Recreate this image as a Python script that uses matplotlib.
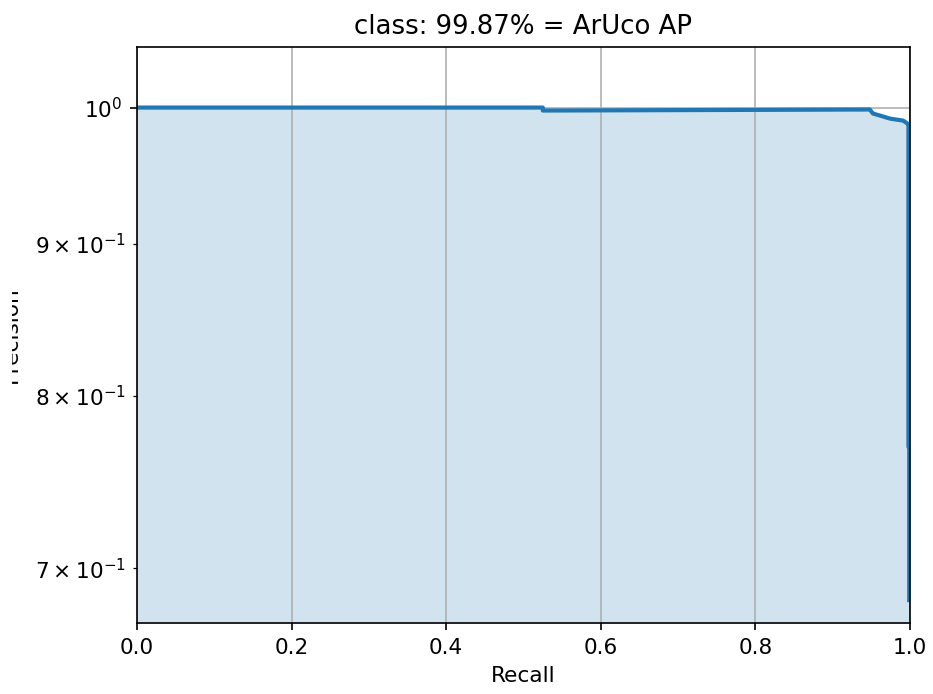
import matplotlib
matplotlib.use("Agg")
import matplotlib.pyplot as plt
from matplotlib.transforms import Bbox, TransformedBbox

# precision / recall curve
recall = [0.0, 0.525, 0.525, 0.948, 0.952, 0.963, 0.974, 0.985, 0.991, 0.996, 0.998, 0.998, 0.999, 0.999]
precision = [1.0, 1.0, 0.9977, 0.9985, 0.9954, 0.9935, 0.9915, 0.9905, 0.9900, 0.9880, 0.9869, 0.769, 0.769, 0.683]
ap = 99.87
class_name = "ArUco"
y_limits = (0.671, 1.048)

plt.rcParams["font.size"] = 10.4

fig = plt.figure(figsize=(933 / 150, 694 / 150), dpi=150)
ax = fig.add_axes([137 / 933, 1 - 623 / 694, (910 - 137) / 933, (623 - 47) / 694])

ax.set_yscale("log")
ax.plot(recall, precision, color="C0", lw=2)
ax.fill_between(recall, precision, y_limits[0], color="C0", alpha=0.2, lw=0)
ax.set_xlim(0, 1)
ax.set_ylim(*y_limits)
ax.grid(True)

ax.set_xlabel("Recall")
ylab = ax.set_ylabel("Precision")
ax.yaxis.set_label_coords(-0.150, 0.5)
# the label runs off the left edge in the original, only its lower half shows
ylab.set_clip_on(True)
ylab.set_clip_box(TransformedBbox(Bbox([[12 / 933, 0], [1, 1]]), fig.transFigure))
ax.set_title("class: %.2f%% = %s AP" % (ap, class_name))

fig.savefig("out.png", dpi=150)
plt.close()
